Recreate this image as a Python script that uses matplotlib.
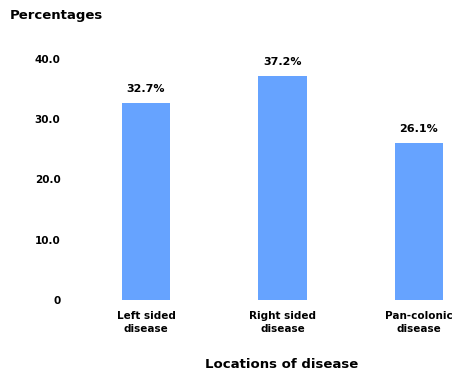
import numpy as np
import matplotlib.pyplot as plt

# Share of cases by disease location
locations = ["Left sided\ndisease", "Right sided\ndisease", "Pan-colonic\ndisease"]
percentages = [32.7, 37.2, 26.1]
y_ticks = [0, 10, 20, 30, 40]
y_tick_labels = ["0", "10.0", "20.0", "30.0", "40.0"]

W, H = 459, 374
fig = plt.figure(figsize=(W / 100, H / 100), dpi=100)

# axes placed in pixel units: baseline at y=300, 136.5 px between bars
left, right = 80, 459
bottom = H - 300
ymax = 45
top_px = 300 - ymax * 6.03
ax = fig.add_axes([left / W, bottom / H, (right - left) / W, (300 - top_px) / H])

x = np.arange(len(locations))
ax.bar(x, percentages, width=0.352, color="#66a3ff")
for xi, v in zip(x, percentages):
    ax.annotate(f"{v}%", (xi, v), xytext=(0, 6), textcoords="offset points",
                ha="center", va="bottom", fontsize=8, fontweight="bold")

ax.set_xlim((left - 146) / 136.5, (right - 146) / 136.5)
ax.set_ylim(0, ymax)
ax.set_xticks(x)
ax.set_xticklabels(locations, fontsize=7.5, fontweight="bold", linespacing=1.4)
ax.set_yticks(y_ticks)
ax.set_yticklabels(y_tick_labels, fontsize=7.5, fontweight="bold")
ax.tick_params(axis="both", length=0)
ax.tick_params(axis="y", pad=14)
ax.tick_params(axis="x", pad=8)
for s in ax.spines.values():
    s.set_visible(False)

fig.text(10 / W, 1 - 16 / H, "Percentages", ha="left", va="center",
         fontsize=9.5, fontweight="bold")
fig.text(282 / W, 1 - 365 / H, "Locations of disease", ha="center", va="center",
         fontsize=9.5, fontweight="bold")

fig.savefig("out.png", dpi=100)
